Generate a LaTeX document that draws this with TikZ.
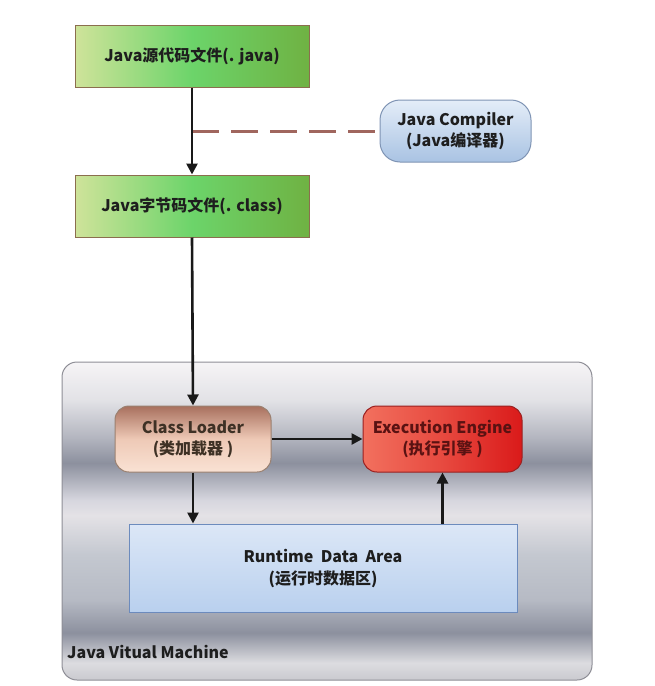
\documentclass[tikz,border=0pt]{standalone}
\usepackage{fontspec}
\setmainfont{Noto Sans CJK SC}
\usetikzlibrary{arrows.meta,calc}
\definecolor{gL}{HTML}{CFE39A}
\definecolor{gM}{HTML}{6CD46A}
\definecolor{gR}{HTML}{6FB243}
\definecolor{gB}{HTML}{8B6E4E}
\definecolor{dashc}{HTML}{A0665E}
\definecolor{cT}{HTML}{E4EDF8}
\definecolor{cB}{HTML}{A9C3E3}
\definecolor{cD}{HTML}{7F94B4}
\definecolor{clT}{HTML}{A8705E}
\definecolor{clM}{HTML}{EEC9B6}
\definecolor{clB}{HTML}{F9E2D4}
\definecolor{clD}{HTML}{9A8070}
\definecolor{eL}{HTML}{F2705E}
\definecolor{eR}{HTML}{DA1A1A}
\definecolor{eD}{HTML}{9A2020}
\definecolor{eText}{HTML}{5A1212}
\definecolor{rT}{HTML}{DCE7F7}
\definecolor{rB}{HTML}{B9D0EE}
\definecolor{rD}{HTML}{6C8BBD}
\definecolor{jD}{HTML}{8E8E96}
\definecolor{txt}{HTML}{1E1E1E}
\definecolor{j1}{HTML}{F6F4F6}
\definecolor{j2}{HTML}{E2E2E6}
\definecolor{j3}{HTML}{B4B6C0}
\definecolor{j4}{HTML}{8C909E}
\definecolor{j5}{HTML}{D6D6DE}
\definecolor{j6}{HTML}{E4E2E6}
\definecolor{j7}{HTML}{C4C8D0}
\definecolor{j8}{HTML}{B6BAC4}
\definecolor{j9}{HTML}{8C909E}
\definecolor{j10}{HTML}{DCDCE0}
\definecolor{j11}{HTML}{CACACF}
\pgfdeclareverticalshading{jvmshade}{100bp}{%
color(0bp)=(j11);%
color(25bp)=(j11);%
color(27.7bp)=(j10);%
color(32.4bp)=(j9);%
color(37.6bp)=(j8);%
color(44.7bp)=(j7);%
color(50.9bp)=(j6);%
color(53.3bp)=(j5);%
color(59.1bp)=(j4);%
color(63.2bp)=(j3);%
color(69bp)=(j2);%
color(75bp)=(j1);%
color(100bp)=(j1)}
\tikzset{
  filebox/.style={draw=gB, line width=1pt, left color=gL, right color=gR, middle color=gM,
    minimum width=234pt, minimum height=62pt, inner sep=0pt, font=\bfseries\fontsize{16}{19}\selectfont, text=txt},
  comp/.style={draw=cD, line width=1pt, rounded corners=20pt, top color=cT, bottom color=cB,
    minimum width=151pt, minimum height=62pt, inner sep=0pt, align=center,
    font=\bfseries\fontsize{16}{21}\selectfont, text=txt},
  loader/.style={draw=clD, line width=1pt, rounded corners=14pt, top color=clT, bottom color=clB, middle color=clM,
    minimum width=156pt, minimum height=66pt, inner sep=0pt, align=center,
    font=\bfseries\fontsize{16}{21}\selectfont, text=txt!80!brown},
  engine/.style={draw=eD, line width=1pt, rounded corners=14pt, left color=eL, right color=eR, middle color=eL!55!eR,
    minimum width=159pt, minimum height=66pt, inner sep=0pt, align=center,
    font=\bfseries\fontsize{16}{21}\selectfont, text=eText},
  rda/.style={draw=rD, line width=1pt, top color=rT, bottom color=rB,
    minimum width=388pt, minimum height=88pt, inner sep=0pt, align=center,
    font=\bfseries\fontsize{16}{22}\selectfont, text=txt},
  jvmbox/.style={draw=jD, line width=1pt, rounded corners=15pt, shading=jvmshade,
    minimum width=530pt, minimum height=318pt, inner sep=0pt},
  flow/.style={draw=black!90, line width=2.6pt, -{Triangle[length=11pt,width=11pt]}},
  dashline/.style={draw=dashc, line width=3pt, dash pattern=on 27pt off 12pt}
}
\begin{document}
\begin{tikzpicture}[x=1pt,y=-1pt]
\useasboundingbox (0,0) rectangle (654,686);
\node[jvmbox] (jvm) at (327,521) {};
\node[anchor=south west, inner sep=0pt, font=\bfseries\fontsize{16}{19}\selectfont, text=txt] (jvmlabel) at (67,659) {Java Vitual Machine};
\node[filebox] (src) at (192,56) {Java源代码文件(. java)};
\node[filebox] (cls) at (192,206) {Java字节码文件(. class)};
\node[comp] (comp) at (455.5,131) {Java Compiler\\(Java编译器)};
\node[loader] (cl) at (193,439) {Class Loader\\(类加载器 )};
\node[engine] (ee) at (442.5,439) {Execution Engine\\(执行引擎 )};
\node[rda] (rda) at (323,568) {Runtime\ \ Data\ \ Area\\(运行时数据区)};
\coordinate (mid) at ($(src.south)!0.5!(cls.north)$);
\draw[dashline] (mid) -- (comp.west);
\draw[flow] (src.south) -- (cls.north);
\draw[flow] (cls.south) -- (cl.north);
\draw[flow] (cl.east) -- (ee.west);
\draw[flow] (cl.south) -- (cl.south |- rda.north);
\draw[flow] (ee.south |- rda.north) -- (ee.south);
\end{tikzpicture}
\end{document}
